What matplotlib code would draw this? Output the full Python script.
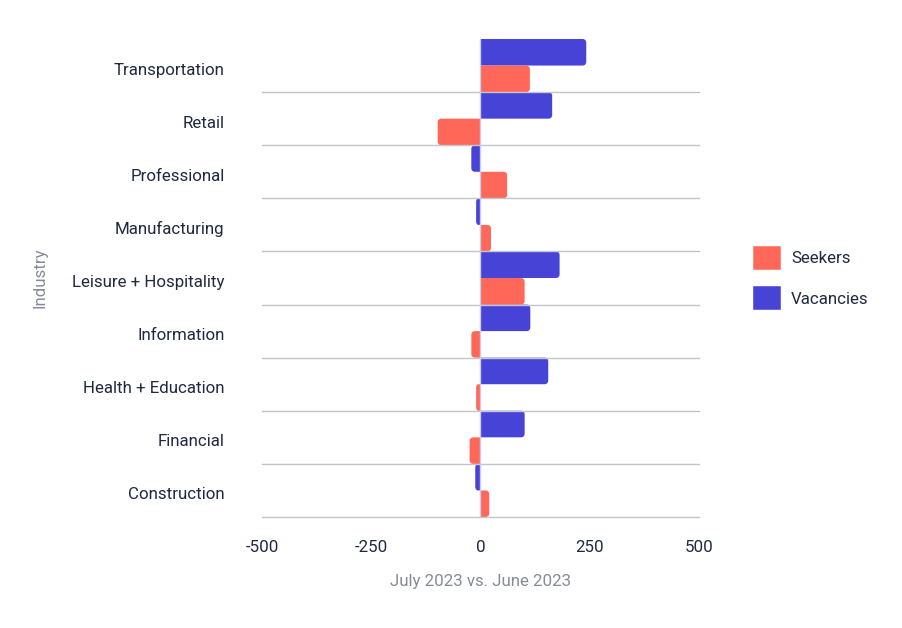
import numpy as np
import matplotlib
matplotlib.use('Agg')
import matplotlib.pyplot as plt
import matplotlib.transforms as mtransforms
from matplotlib.patches import Patch, PathPatch
from matplotlib.path import Path

plt.rcParams['font.family'] = ['Roboto', 'DejaVu Sans']

# data, bottom to top
industries = ['Construction', 'Financial', 'Health + Education', 'Information',
              'Leisure + Hospitality', 'Manufacturing', 'Professional', 'Retail',
              'Transportation']
vacancies = [-12, 101, 155, 114, 181, -10, -21, 164, 242]
seekers = [20, -25, -10, -21, 101, 24, 61, -98, 113]

c_seek = '#FF6859'
c_vac = '#4743D6'
c_text = '#1F2940'
c_grey = '#858B98'
fs = 12.2

fig = plt.figure(figsize=(9.03, 6.28), dpi=100)
ax = fig.add_axes([262/903, 1 - 517/628, 437/903, 478/628])
ax.set_xlim(-500, 500)
ax.set_ylim(-0.5, len(industries) - 0.5)

# data units per pixel, used to round the outer bar corners
px_x = 1000 / 437
px_y = len(industries) / 478
r_px = 3.5


def rbar(val, y0, h, color):
    if val == 0:
        return
    sgn = 1 if val > 0 else -1
    rx = min(r_px * px_x, abs(val) / 2)
    ry = r_px * px_y
    t = np.linspace(0, np.pi / 2, 8)
    xe = val - sgn * rx
    # outer end: bottom corner then top corner
    pts = [(0, y0), (xe, y0)]
    for a in t:
        pts.append((xe + sgn * rx * np.sin(a), y0 + ry - ry * np.cos(a)))
    for a in t:
        pts.append((xe + sgn * rx * np.cos(a), y0 + h - ry + ry * np.sin(a)))
    pts += [(0, y0 + h), (0, y0)]
    ax.add_patch(PathPatch(Path(pts), fc=color, ec='none', zorder=2))


for i in range(len(industries)):
    rbar(vacancies[i], i, 0.5, c_vac)
    rbar(seekers[i], i - 0.5, 0.5, c_seek)

# band separators
for i in range(len(industries)):
    ax.axhline(i - 0.5, color='#C3C5CD', lw=1, zorder=3, clip_on=False)
ax.axvline(0, color='#C9CBF0', lw=1, zorder=4)

for s in ax.spines.values():
    s.set_visible(False)

ax.set_yticks(range(len(industries)))
ax.set_yticklabels(industries, fontsize=fs, color=c_text)
ax.set_xticks([-500, -250, 0, 250, 500])
ax.set_xticklabels(['-500', '-250', '0', '250', '500'], fontsize=fs, color=c_text)
ax.tick_params(axis='y', length=0, pad=27)
ax.tick_params(axis='x', length=0, pad=16.5)

shift = mtransforms.ScaledTranslation(0, -3 / 100, fig.dpi_scale_trans)
for lab in ax.get_yticklabels():
    lab.set_transform(lab.get_transform() + shift)

ax.set_xlabel('July 2023 vs. June 2023', fontsize=fs, color=c_grey, labelpad=14)
ax.set_ylabel('Industry', fontsize=fs, color=c_grey, labelpad=17.5)

handles = [Patch(fc=c_seek, ec=c_seek, lw=4, joinstyle='round', label='Seekers'),
           Patch(fc=c_vac, ec=c_vac, lw=4, joinstyle='round', label='Vacancies')]
fig.legend(handles=handles, loc='center left', bbox_to_anchor=(741/903, 1 - 278/628),
           frameon=False, fontsize=fs, labelcolor=c_text,
           handlelength=1.3, handleheight=1.3, handletextpad=0.75, labelspacing=1.3)

fig.savefig('out.png', dpi=100)
